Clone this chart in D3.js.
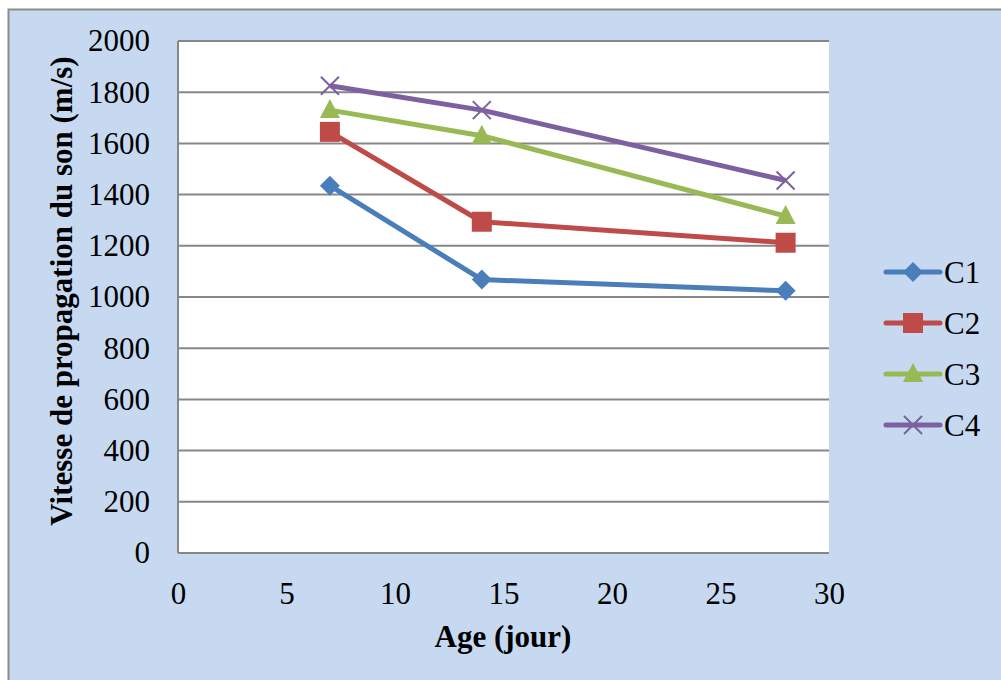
<!DOCTYPE html>
<html>
<head>
<meta charset="utf-8">
<script src="https://cdn.jsdelivr.net/npm/d3@7"></script>
<style>
  body { margin: 0; background: #fff; }
  svg { display: block; }
</style>
</head>
<body>
<svg id="chart"></svg>
<script>
// data
const ages = [7, 14, 28];
const seriesNames = ["C1", "C2", "C3", "C4"];
const c1 = [1435, 1068, 1024];
const c2 = [1645, 1294, 1212];
const c3 = [1730, 1630, 1316];
const c4 = [1825, 1730, 1455];
const xTicks = [0, 5, 10, 15, 20, 25, 30];
const yTicks = [0, 200, 400, 600, 800, 1000, 1200, 1400, 1600, 1800, 2000];

const values = [c1, c2, c3, c4];
const colors = ["#4a7ebb", "#be4b48", "#98b954", "#7d60a0"];
const symbols = ["diamond", "square", "triangle", "cross"];

const W = 1001, H = 680;
const margin = { top: 41, right: 172, bottom: 127, left: 178 };
const width = W - margin.left - margin.right;
const height = H - margin.top - margin.bottom;
const font = "'Liberation Serif', 'Times New Roman', serif";

const svg = d3.select("#chart").attr("width", W).attr("height", H);

// outer chart area
svg.append("rect")
    .attr("x", 8.5).attr("y", 9.5)
    .attr("width", W).attr("height", H)
    .attr("fill", "#c6d9f1")
    .attr("stroke", "#8c8c8c")
    .attr("stroke-width", 2);

const g = svg.append("g").attr("transform", `translate(${margin.left},${margin.top})`);

const x = d3.scaleLinear().domain([0, 30]).range([0, width]);
const y = d3.scaleLinear().domain([0, 2000]).range([height, 0]);

g.append("rect")
    .attr("width", width).attr("height", height)
    .attr("fill", "#fff");

// gridlines
g.selectAll(".grid")
    .data(yTicks)
    .enter().append("line")
    .attr("x1", 0).attr("x2", width)
    .attr("y1", d => y(d)).attr("y2", d => y(d))
    .attr("stroke", "#878787")
    .attr("stroke-width", 2);

// left axis line
g.append("line")
    .attr("x1", 0).attr("x2", 0).attr("y1", 0).attr("y2", height)
    .attr("stroke", "#878787").attr("stroke-width", 2);

// y axis labels
const yAxis = g.append("g")
    .call(d3.axisLeft(y).tickValues(yTicks).tickFormat(d3.format("d")).tickSize(0).tickPadding(28));
yAxis.select(".domain").remove();
yAxis.selectAll("text")
    .style("font-family", font).style("font-size", "31px").attr("fill", "#000");

// x axis labels
const xAxis = g.append("g")
    .attr("transform", `translate(0,${height})`)
    .call(d3.axisBottom(x).tickValues(xTicks).tickSize(0).tickPadding(29));
xAxis.select(".domain").remove();
xAxis.selectAll("text")
    .style("font-family", font).style("font-size", "31px").attr("fill", "#000");

// axis titles
svg.append("text")
    .attr("x", 503).attr("y", 647)
    .attr("text-anchor", "middle")
    .style("font-family", font).style("font-size", "31px").style("font-weight", "bold")
    .text("Age (jour)");

svg.append("text")
    .attr("transform", "translate(72,291) rotate(-90)")
    .attr("text-anchor", "middle")
    .style("font-family", font).style("font-size", "31px").style("font-weight", "bold")
    .text("Vitesse de propagation du son (m/s)");

// marker drawing
const drawMarker = (sel, type, color) => {
  if (type === "diamond") {
    sel.append("path").attr("d", "M0,-10L10,0L0,10L-10,0Z").attr("fill", color);
  } else if (type === "square") {
    sel.append("rect").attr("x", -10).attr("y", -10).attr("width", 20).attr("height", 20).attr("fill", color);
  } else if (type === "triangle") {
    sel.append("path").attr("d", "M0,-11L10,8L-10,8Z").attr("fill", color);
  } else {
    sel.append("path").attr("d", "M-9,-9L9,9M-9,9L9,-9").attr("stroke", color).attr("stroke-width", 2).attr("fill", "none");
  }
};

const line = d3.line().x(d => x(d.age)).y(d => y(d.v));

seriesNames.forEach((name, i) => {
  const pts = ages.map((a, j) => ({ age: a, v: values[i][j] }));
  g.append("path")
      .datum(pts)
      .attr("d", line)
      .attr("fill", "none")
      .attr("stroke", colors[i])
      .attr("stroke-width", 5)
      .attr("stroke-linejoin", "round");
  pts.forEach(p => {
    const m = g.append("g").attr("transform", `translate(${x(p.age)},${y(p.v)})`);
    drawMarker(m, symbols[i], colors[i]);
  });
});

// legend
const legend = svg.append("g").attr("transform", "translate(886,272)");
seriesNames.forEach((name, i) => {
  const row = legend.append("g").attr("transform", `translate(0,${i * 51})`);
  row.append("line")
      .attr("x1", 0).attr("x2", 54).attr("y1", 0).attr("y2", 0)
      .attr("stroke", colors[i]).attr("stroke-width", 5).attr("stroke-linecap", "round");
  const m = row.append("g").attr("transform", "translate(27,0)");
  drawMarker(m, symbols[i], colors[i]);
  row.append("text")
      .attr("x", 58).attr("y", 11)
      .style("font-family", font).style("font-size", "31px")
      .text(name);
});
</script>
</body>
</html>
